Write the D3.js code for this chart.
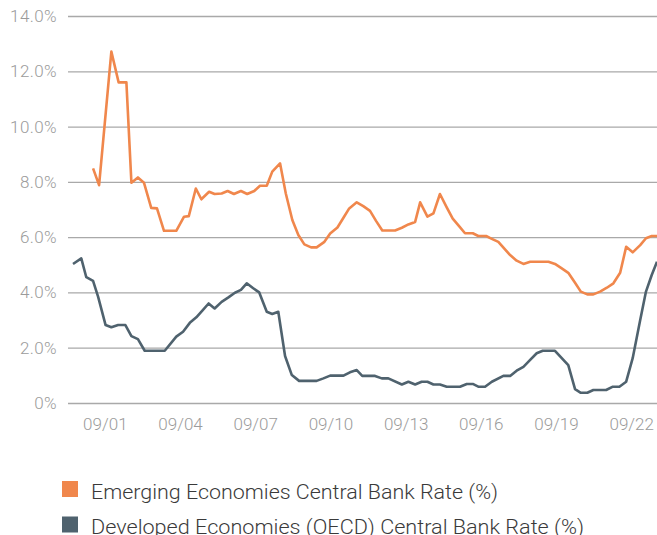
<!DOCTYPE html>
<html><head><meta charset="utf-8">
<script src="https://cdn.jsdelivr.net/npm/d3@7/dist/d3.min.js"></script>
<style>body{margin:0;background:#fff}svg{display:block}</style>
</head><body>
<svg id="c" width="657" height="535"></svg>
<script>
// y ticks (%)
const yTicks = [0, 2, 4, 6, 8, 10, 12, 14];
// x ticks: September of each labelled year (decimal years)
const xTickYears = [2001.67, 2004.67, 2007.67, 2010.67, 2013.67, 2016.67, 2019.67, 2022.67];
const xTickLabels = ["09/01", "09/04", "09/07", "09/10", "09/13", "09/16", "09/19", "09/22"];

// Emerging economies central bank rate (%)
const emDates = [2001.20,2001.44,2001.93,2002.22,2002.53,2002.73,2002.99,2003.23,2003.52,2003.75,2004.03,2004.52,2004.83,2005.02,2005.30,2005.52,2005.83,2006.05,2006.33,2006.57,2006.82,2007.10,2007.35,2007.63,2007.86,2008.13,2008.35,2008.66,2008.89,2009.15,2009.39,2009.63,2009.90,2010.12,2010.43,2010.66,2010.95,2011.19,2011.42,2011.72,2011.98,2012.25,2012.49,2012.74,2013.25,2013.52,2013.78,2014.05,2014.25,2014.54,2014.78,2015.04,2015.31,2015.55,2015.82,2016.04,2016.35,2016.57,2016.88,2017.11,2017.37,2017.60,2017.84,2018.10,2018.37,2018.64,2019.37,2019.63,2019.90,2020.16,2020.43,2020.66,2020.92,2021.16,2021.43,2021.70,2021.96,2022.23,2022.47,2022.73,2023.03,2023.26,2023.49,2023.70];
const emValues = [8.49,7.88,12.71,11.60,11.60,7.97,8.16,7.97,7.06,7.04,6.23,6.23,6.74,6.76,7.76,7.37,7.64,7.56,7.58,7.67,7.56,7.67,7.56,7.67,7.86,7.86,8.37,8.67,7.58,6.62,6.08,5.74,5.63,5.63,5.83,6.13,6.35,6.70,7.04,7.26,7.12,6.95,6.59,6.24,6.24,6.34,6.46,6.55,7.26,6.74,6.86,7.56,7.08,6.67,6.38,6.14,6.14,6.04,6.04,5.94,5.83,5.59,5.35,5.15,5.03,5.11,5.11,5.03,4.87,4.71,4.35,4.03,3.93,3.93,4.03,4.17,4.33,4.71,5.65,5.45,5.71,5.96,6.04,6.04];

// Developed economies (OECD) central bank rate (%)
const dmDates = [2000.40,2000.73,2000.93,2001.20,2001.40,2001.70,2001.93,2002.20,2002.49,2002.73,2002.99,2003.26,2004.06,2004.52,2004.79,2005.06,2005.32,2005.56,2005.81,2006.05,2006.33,2006.60,2006.86,2007.10,2007.33,2007.59,2007.83,2008.13,2008.35,2008.59,2008.86,2009.13,2009.42,2010.12,2010.39,2010.66,2011.19,2011.45,2011.72,2011.94,2012.45,2012.72,2012.98,2013.52,2013.78,2014.05,2014.31,2014.54,2014.78,2015.04,2015.31,2015.84,2016.11,2016.35,2016.57,2016.84,2017.11,2017.57,2017.84,2018.10,2018.37,2018.64,2018.90,2019.14,2019.63,2019.90,2020.16,2020.43,2020.66,2020.92,2021.16,2021.67,2021.94,2022.20,2022.47,2022.73,2023.03,2023.26,2023.49,2023.70];
const dmValues = [5.03,5.23,4.55,4.42,3.85,2.82,2.74,2.82,2.82,2.42,2.31,1.89,1.89,2.40,2.58,2.90,3.10,3.34,3.60,3.42,3.66,3.82,3.99,4.09,4.33,4.15,4.00,3.30,3.22,3.30,1.70,1.01,0.80,0.80,0.89,0.99,0.99,1.11,1.19,0.98,0.98,0.89,0.89,0.67,0.77,0.67,0.77,0.77,0.67,0.67,0.59,0.59,0.69,0.69,0.59,0.59,0.77,0.98,0.98,1.17,1.31,1.56,1.80,1.89,1.89,1.62,1.37,0.50,0.37,0.37,0.47,0.47,0.59,0.59,0.77,1.62,3.00,4.03,4.63,5.11];

const seriesNames = ["Emerging Economies Central Bank Rate (%)", "Developed Economies (OECD) Central Bank Rate (%)"];
const seriesColors = ["#f0874c", "#4f626e"];

const svg = d3.select("#c");
const x = d3.scaleLinear().domain([2000.2, 2023.7]).range([68, 657]);
const y = d3.scaleLinear().domain([0, 14]).range([403, 16]);

// gridlines + y labels
const yAxis = d3.axisLeft(y).tickValues(yTicks).tickSize(-(657 - 68)).tickPadding(11)
  .tickFormat(d => d === 0 ? "0%" : d.toFixed(1) + "%");
const gy = svg.append("g").attr("transform", "translate(68,0)").call(yAxis);
gy.select(".domain").remove();
gy.selectAll(".tick line").attr("stroke", "#a9a9a9").attr("stroke-width", 1.3);
gy.selectAll(".tick text").attr("fill", "#9b9b9b").style("font-family", "Roboto, sans-serif")
  .style("font-weight", 300).style("font-size", "17px").style("letter-spacing", "0.4px");

// x labels
const xAxis = d3.axisBottom(x).tickValues(xTickYears).tickSize(0).tickPadding(0)
  .tickFormat((d, i) => xTickLabels[i]);
const gx = svg.append("g").attr("transform", "translate(0,418)").call(xAxis);
gx.select(".domain").remove();
gx.selectAll(".tick text").attr("fill", "#9b9b9b").style("font-family", "Roboto, sans-serif")
  .style("font-weight", 300).style("font-size", "17px");

// lines
const line = d3.line().x(d => x(d[0])).y(d => y(d[1]));
const emData = emDates.map((d, i) => [d, emValues[i]]);
const dmData = dmDates.map((d, i) => [d, dmValues[i]]);
svg.append("defs").append("clipPath").attr("id", "clip").append("rect")
  .attr("x", 68).attr("y", 0).attr("width", 589).attr("height", 420);
const gl = svg.append("g").attr("clip-path", "url(#clip)");
[emData, dmData].forEach((data, i) => {
  gl.append("path").datum(data).attr("d", line).attr("fill", "none")
    .attr("stroke", seriesColors[i]).attr("stroke-width", 2.6)
    .attr("stroke-linejoin", "round").attr("stroke-linecap", "butt");
});

// legend
const legendW = [407, 493];
const lg = svg.append("g");
seriesNames.forEach((n, i) => {
  const yy = 481 + i * 35.5;
  lg.append("rect").attr("x", 62).attr("y", yy).attr("width", 16).attr("height", 16)
    .attr("fill", seriesColors[i]);
  lg.append("text").attr("x", 91).attr("y", yy + 17.5).text(n)
    .attr("fill", "#3a3a3a").style("font-family", "Roboto, sans-serif").style("font-weight", 300)
    .style("font-size", "20px").attr("textLength", legendW[i]).attr("lengthAdjust", "spacingAndGlyphs");
});
</script>
</body></html>
